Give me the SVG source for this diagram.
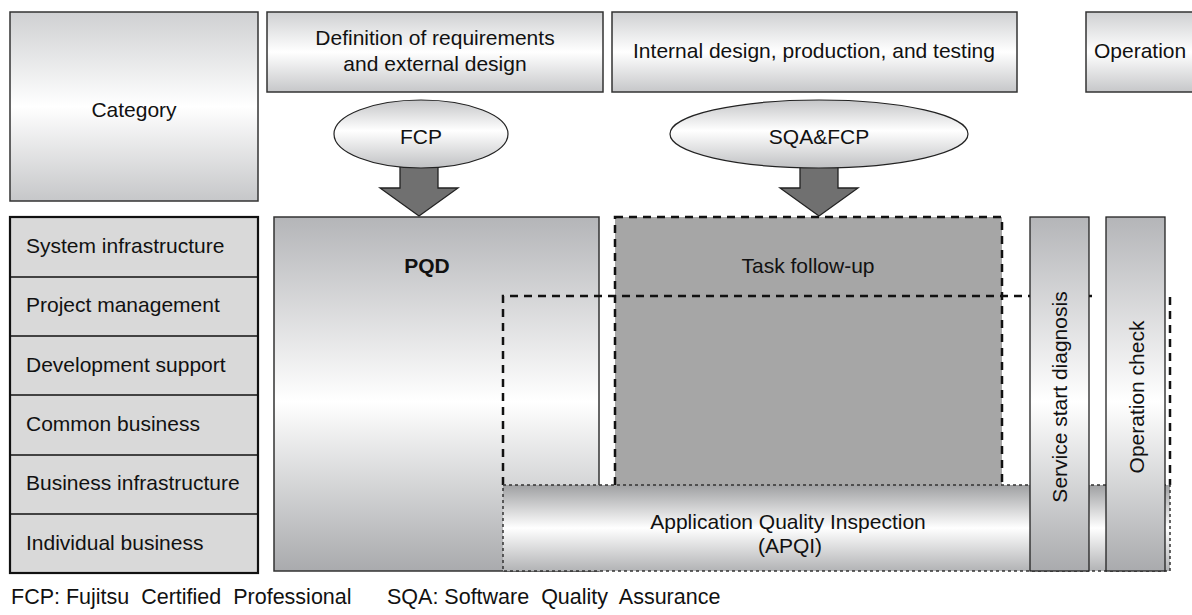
<svg xmlns="http://www.w3.org/2000/svg" width="1192" height="615" viewBox="0 0 1192 615">
<style>
text{font-family:"Liberation Sans",Arial,sans-serif;font-size:21px;fill:#111;}
.c{text-anchor:middle;}
.hdr{stroke:#333;stroke-width:1.5;}
.row{fill:#d9d9d9;stroke:#111;stroke-width:1.5;}
.arrow{fill:#707070;stroke:#222;stroke-width:1.3;}
.pre{white-space:pre;font-size:21.5px;}
</style>
<defs>
<linearGradient id="gHdr" x1="0" y1="0" x2="0" y2="1">
<stop offset="0" stop-color="#cfd0d2"/>
<stop offset="0.5" stop-color="#ffffff"/>
<stop offset="1" stop-color="#c6c7c9"/>
</linearGradient>
<linearGradient id="gEll" x1="0" y1="0" x2="0" y2="1">
<stop offset="0" stop-color="#c4c5c7"/>
<stop offset="0.45" stop-color="#ffffff"/>
<stop offset="1" stop-color="#c0c1c3"/>
</linearGradient>
<linearGradient id="gTall" x1="0" y1="0" x2="0" y2="1">
<stop offset="0" stop-color="#b4b5b8"/>
<stop offset="0.52" stop-color="#ffffff"/>
<stop offset="1" stop-color="#a9aaad"/>
</linearGradient>
<linearGradient id="gApqi" x1="0" y1="0" x2="0" y2="1">
<stop offset="0" stop-color="#9fa0a2"/>
<stop offset="0.5" stop-color="#ffffff"/>
<stop offset="1" stop-color="#b2b3b5"/>
</linearGradient>
</defs>

<g id="category">
<rect class="hdr" x="10" y="12" width="248" height="189" fill="url(#gHdr)"/>
<text class="c" x="134" y="117">Category</text>
</g>
<g id="phase-definition">
<rect class="hdr" x="267" y="12" width="336" height="80" fill="url(#gHdr)"/>
<text class="c" x="435" y="45">Definition of requirements</text>
<text class="c" x="435" y="71">and external design</text>
</g>
<g id="phase-internal">
<rect class="hdr" x="612" y="12" width="405" height="80" fill="url(#gHdr)"/>
<text class="c" x="814" y="58">Internal design, production, and testing</text>
</g>
<g id="phase-operation">
<rect class="hdr" x="1086" y="12" width="120" height="80" fill="url(#gHdr)"/>
<text x="1094" y="58">Operation</text>
</g>

<g id="category-list">
<rect x="10" y="217" width="248" height="356" fill="#d9d9d9" stroke="#111" stroke-width="2.2"/>
<line class="row" x1="10" y1="277" x2="258" y2="277"/>
<line class="row" x1="10" y1="336" x2="258" y2="336"/>
<line class="row" x1="10" y1="395" x2="258" y2="395"/>
<line class="row" x1="10" y1="455" x2="258" y2="455"/>
<line class="row" x1="10" y1="514" x2="258" y2="514"/>
<text x="26" y="253">System infrastructure</text>
<text x="26" y="312">Project management</text>
<text x="26" y="372">Development support</text>
<text x="26" y="431">Common business</text>
<text x="26" y="490">Business infrastructure</text>
<text x="26" y="550">Individual business</text>
</g>

<g id="pqd">
<rect x="274" y="217" width="325" height="354" fill="url(#gTall)" stroke="#333" stroke-width="1.5"/>
<text class="c" x="427" y="273" font-weight="bold">PQD</text>
</g>

<g id="task-follow-up">
<rect x="615" y="217" width="387" height="272" fill="#a6a6a6" stroke="#111" stroke-width="2.5" stroke-dasharray="8,6"/>
<text class="c" x="808" y="273">Task follow-up</text>
</g>

<g id="connectors">
<path d="M503,485 V296 H1098" fill="none" stroke="#111" stroke-width="2.5" stroke-dasharray="8,6"/>
<path d="M1170,297 V485" fill="none" stroke="#111" stroke-width="2.5" stroke-dasharray="8,6"/>
<path class="arrow" d="M400,166 H438 V188 H458 L419,216 L380,188 H400 Z"/>
<path class="arrow" d="M800,166 H838 V188 H858 L819,216 L780,188 H800 Z"/>
</g>

<g id="fcp">
<ellipse cx="421" cy="134" rx="87" ry="34" fill="url(#gEll)" stroke="#222" stroke-width="1.2"/>
<text class="c" x="421" y="144">FCP</text>
</g>
<g id="sqa-fcp">
<ellipse cx="819" cy="134" rx="149" ry="34" fill="url(#gEll)" stroke="#222" stroke-width="1.2"/>
<text class="c" x="819" y="144">SQA&amp;FCP</text>
</g>

<g id="apqi">
<rect x="503" y="485" width="667" height="86" fill="url(#gApqi)" stroke="#333" stroke-width="1.5" stroke-dasharray="3,3"/>
<text class="c" x="788" y="529">Application Quality Inspection</text>
<text class="c" x="790" y="553">(APQI)</text>
</g>

<g id="service-start-diagnosis">
<rect x="1030" y="217" width="59" height="354" fill="url(#gTall)" stroke="#222" stroke-width="1.3"/>
<text class="c" transform="translate(1067,397) rotate(-90)">Service start diagnosis</text>
</g>
<g id="operation-check">
<rect x="1106" y="217" width="59" height="354" fill="url(#gTall)" stroke="#222" stroke-width="1.3"/>
<text class="c" transform="translate(1144,397) rotate(-90)">Operation check</text>
</g>

<g id="legend">
<text class="pre" x="11" y="604">FCP: Fujitsu  Certified  Professional</text>
<text class="pre" x="387" y="604">SQA: Software  Quality  Assurance</text>
</g>
</svg>
